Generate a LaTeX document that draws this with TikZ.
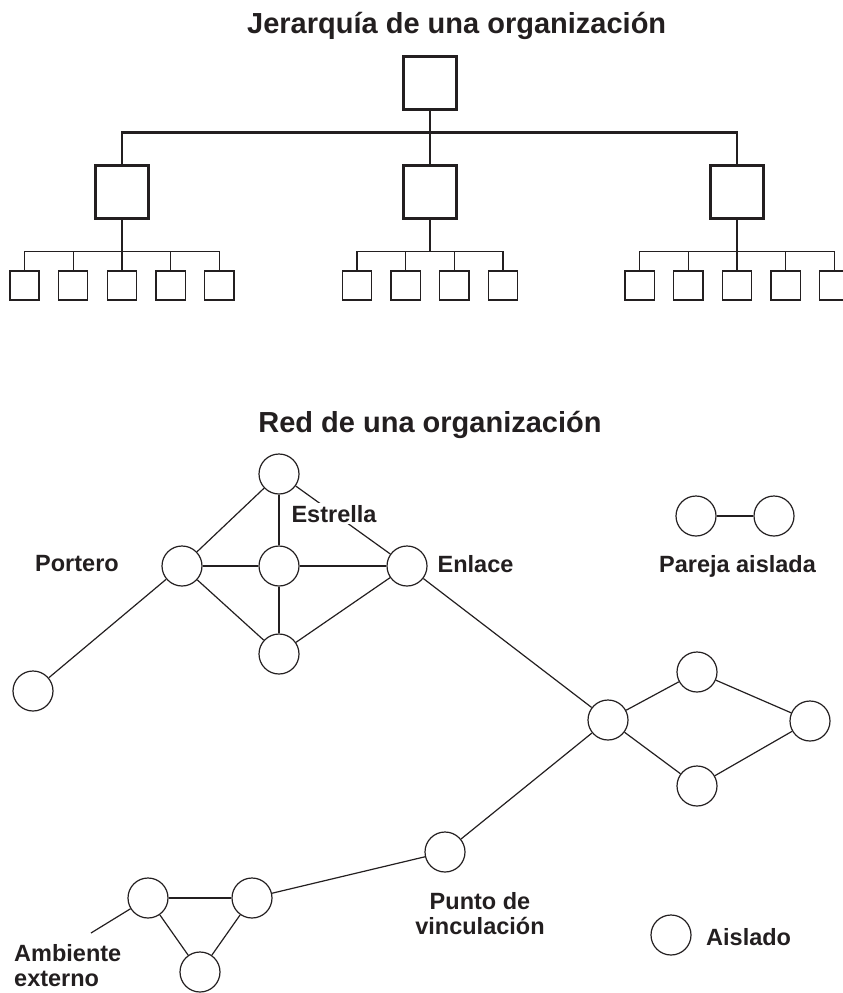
\documentclass[tikz,border=0pt]{standalone}
\usepackage{fontspec}
\setmainfont{Liberation Sans}
\usepackage{tikz}
\usetikzlibrary{positioning}
\definecolor{tinta}{HTML}{231F20}
\tikzset{
  jefe/.style={draw=tinta, line width=2.6pt, minimum size=52.5pt, inner sep=0pt},
  puesto/.style={draw=tinta, line width=1.3pt, minimum size=29.2pt, inner sep=0pt},
  actor/.style={draw=tinta, circle, line width=1.2pt, minimum size=40pt, inner sep=0pt},
  grueso/.style={draw=tinta, line width=2.6pt},
  fino/.style={draw=tinta, line width=1.3pt},
  lazo/.style={draw=tinta, line width=1.2pt},
  rotulo/.style={text=tinta, inner sep=0pt, font=\fontsize{23.5}{25}\selectfont\bfseries},
  titulo/.style={text=tinta, inner sep=0pt, font=\fontsize{29}{32}\selectfont\bfseries}
}

\begin{document}
\begin{tikzpicture}[x=1pt,y=-1pt]
\newcommand*{\paso}{48.7}
\useasboundingbox (0,0) rectangle (843,993);
\clip (0,0) rectangle (843,993);

% jerarquia
\begin{scope}
  \node[titulo, anchor=base west] (tit1) at (247,33) {Jerarquía de una organización};
  \node[jefe] (jefe) at (430,83) {};
  \node[jefe] (mandoA) at (122,192) {};
  \node[jefe] (mandoB) at (430,192) {};
  \node[jefe] (mandoC) at (737,192) {};
  \draw[grueso] (jefe) -- (mandoB);
  \draw[grueso] (mandoA.north) -- ++(0,-32) -| (mandoC.north);

  \foreach \i in {1,...,5}
  {
    \node[puesto] (a\i) at ({24.5+\paso*(\i-1)},285.5) {};
    \draw[fino] (mandoA.south) |- ([yshift=19pt]a\i.north) -- (a\i.north);
  }
  \foreach \i in {1,...,4}
  {
    \node[puesto] (b\i) at ({430+\paso*(\i-2.5)},285.5) {};
    \draw[fino] (mandoB.south) |- ([yshift=19pt]b\i.north) -- (b\i.north);
  }
  \foreach \i in {1,...,5}
  {
    \node[puesto] (c\i) at ({737+\paso*(\i-3)},285.5) {};
    \draw[fino] (mandoC.south) |- ([yshift=19pt]c\i.north) -- (c\i.north);
  }
\end{scope}

% red
\begin{scope}
  \node[titulo, anchor=base] (tit2) at (430,432) {Red de una organización};

  \node[actor] (cima) at (279,474) {};
  \node[actor] (portero) at (182,566) {};
  \node[actor] (estrella) at (279,566) {};
  \node[actor] (enlace) at (407,566) {};
  \node[actor] (base) at (279,654) {};
  \node[actor] (lejano) at (33,691) {};
  \node[actor] (nodo) at (608,720) {};
  \node[actor] (arriba) at (697,672) {};
  \node[actor] (extremo) at (810,721) {};
  \node[actor] (abajo) at (697,786) {};
  \node[actor] (puente) at (445,852) {};
  \node[actor] (triA) at (148,898) {};
  \node[actor] (triB) at (252,898) {};
  \node[actor] (triC) at (200,972) {};
  \node[actor] (parA) at (696,516) {};
  \node[actor] (parB) at (774,516) {};
  \node[actor] (solo) at (671,935) {};
  \coordinate (fuera) at (91,933);

  \foreach \u/\v in {cima/portero, cima/estrella, cima/enlace, portero/estrella,
      estrella/enlace, portero/base, estrella/base, enlace/base, portero/lejano,
      enlace/nodo, nodo/arriba, nodo/abajo, arriba/extremo, abajo/extremo,
      nodo/puente, puente/triB, triA/triB, triA/triC, triB/triC, parA/parB}
    \draw[lazo] (\u) -- (\v);
  \draw[lazo] (triA) -- (fuera);

  \node[rotulo] (lbPortero) at (77,564) {Portero};
  \node[rotulo] (lbEnlace) at (475.5,564) {Enlace};
  \node[rotulo, anchor=base, fill=white, inner sep=1.5pt] (lbEstrella) at (334,522) {Estrella};
  \node[rotulo, anchor=base] (lbPareja) at (737.5,572) {Pareja aislada};
  \node[rotulo, anchor=base west] (lbSolo) at (706,945) {Aislado};
  \node[rotulo, align=center] (lbPuente) at (480,914) {Punto de\\vinculación};
  \node[rotulo, align=left, anchor=west] (lbFuera) at (14,966) {Ambiente\\externo};
\end{scope}
\end{tikzpicture}
\end{document}
